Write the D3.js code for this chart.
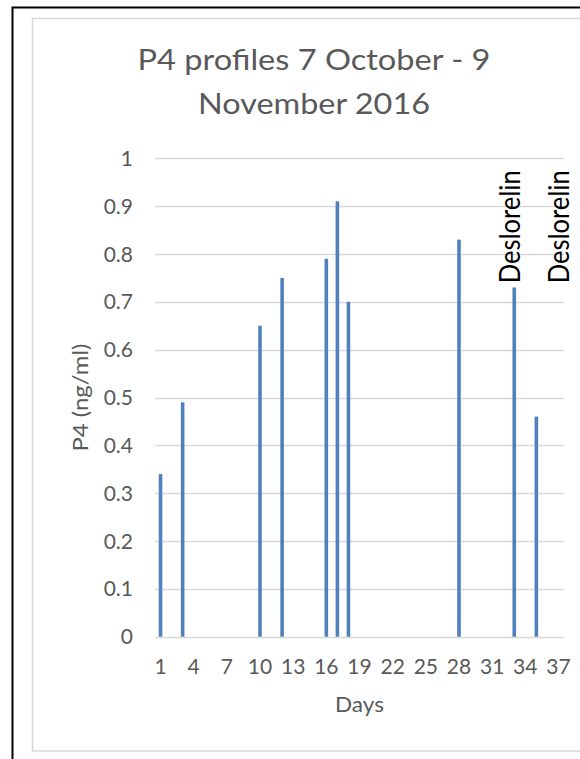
<!DOCTYPE html>
<html><head><meta charset="utf-8">
<script src="https://cdn.jsdelivr.net/npm/d3@7"></script>
<style>body{margin:0;background:#fff}svg{display:block}</style>
</head><body><svg id="c" width="580" height="759"></svg>
<script>
// ---- data ----
const days = d3.range(1, 38);                       // categories 1..37
const barDays   = [1, 3, 10, 12, 16, 17, 18, 28, 33, 35];
const p4Values  = [0.34, 0.49, 0.65, 0.75, 0.79, 0.91, 0.70, 0.83, 0.73, 0.46];
const yTicks    = [0, 0.1, 0.2, 0.3, 0.4, 0.5, 0.6, 0.7, 0.8, 0.9, 1];
const yTickLabels = ["0","0.1","0.2","0.3","0.4","0.5","0.6","0.7","0.8","0.9","1"];
const xTickDays = [1, 4, 7, 10, 13, 16, 19, 22, 25, 28, 31, 34, 37];
const annotationDays   = [32.6, 37];
const annotationLabels = ["Deslorelin", "Deslorelin"];
const titleLines = ["P4 profiles 7 October - 9", "November 2016"];
const xTitle = "Days";
const yTitle = "P4 (ng/ml)";

// ---- layout ----
const svg = d3.select("#c");
const plot = {left: 155, right: 564, top: 158.3, bottom: 636.7};
const FONT = "Lato, 'Open Sans', sans-serif";
const GREY = "#595959";

svg.append("rect").attr("width", 580).attr("height", 759).attr("fill", "#fff");
// outer black frame (cropped right/bottom)
svg.append("rect").attr("x", 12.5).attr("y", 7.5).attr("width", 700).attr("height", 900)
  .attr("fill", "none").attr("stroke", "#000").attr("stroke-width", 2);
// inner chart-area border
svg.append("rect").attr("x", 32.5).attr("y", 18.5).attr("width", 700).attr("height", 732.5)
  .attr("fill", "none").attr("stroke", "#d9d9d9").attr("stroke-width", 1.5);

const x = d3.scaleBand().domain(days).range([plot.left, plot.right]).padding(0);
const xLin = d3.scaleLinear().domain([0.5, 37.5]).range([plot.left, plot.right]);
const y = d3.scaleLinear().domain([0, 1]).range([plot.bottom, plot.top]);

// gridlines
svg.append("g").selectAll("line").data(yTicks).join("line")
  .attr("x1", plot.left).attr("x2", plot.right)
  .attr("y1", d => Math.round(y(d)) + 0.5).attr("y2", d => Math.round(y(d)) + 0.5)
  .attr("stroke", "#d9d9d9").attr("stroke-width", 1.5);

// y tick labels
svg.append("g").selectAll("text").data(yTicks).join("text")
  .attr("x", 133).attr("y", d => y(d)).attr("dy", "0.36em")
  .attr("text-anchor", "end").attr("font-family", FONT).attr("font-size", 21)
  .attr("fill", GREY).text((d, i) => yTickLabels[i]);

// x tick labels
svg.append("g").selectAll("text").data(xTickDays).join("text")
  .attr("x", d => x(d) + x.bandwidth() / 2).attr("y", 674)
  .attr("text-anchor", "middle").attr("font-family", FONT).attr("font-size", 21)
  .attr("fill", GREY).text(d => d);

// bars
const barW = 3.6;
svg.append("g").selectAll("rect").data(barDays).join("rect")
  .attr("x", d => x(d) + x.bandwidth() / 2 - barW / 2)
  .attr("width", barW)
  .attr("y", (d, i) => y(p4Values[i]))
  .attr("height", (d, i) => y(0) - y(p4Values[i]))
  .attr("fill", "#4f81bd");

function fit(sel, len) {
  sel.attr("textLength", len).attr("lengthAdjust", "spacingAndGlyphs");
  return sel;
}

// title
const tl = [{b: 69.5, w: 353}, {b: 113.5, w: 232}];
titleLines.forEach((t, i) => {
  fit(svg.append("text").attr("x", 314).attr("y", tl[i].b)
    .attr("text-anchor", "middle").attr("font-family", FONT)
    .attr("font-size", 28).attr("fill", GREY).text(t), tl[i].w);
});

// axis titles
fit(svg.append("text").attr("x", (plot.left + plot.right) / 2).attr("y", 711.7)
  .attr("text-anchor", "middle").attr("font-family", FONT).attr("font-size", 22)
  .attr("fill", GREY).text(xTitle), 49);

fit(svg.append("text").attr("transform", `translate(87.5,${(plot.top + plot.bottom) / 2}) rotate(-90)`)
  .attr("text-anchor", "middle").attr("font-family", FONT).attr("font-size", 21)
  .attr("fill", GREY).text(yTitle), 108);

// annotations
annotationDays.forEach((d, i) => {
  fit(svg.append("text").attr("transform", `translate(${xLin(d) + 10.5},283.3) rotate(-90)`)
    .attr("text-anchor", "start").attr("font-family", FONT).attr("font-size", 28)
    .attr("fill", "#000").text(annotationLabels[i]), 113);
});
</script></body></html>
